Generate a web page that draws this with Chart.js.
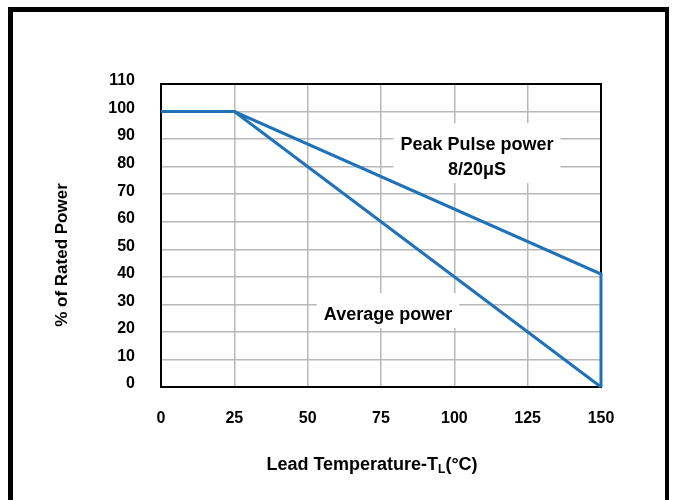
<!DOCTYPE html>
<html lang="en">
<head>
  <meta charset="UTF-8">
  <title>Power Derating Curve</title>
  <script src="https://cdn.jsdelivr.net/npm/chart.js"></script>
  <style>
    body {
      margin: 0;
      background: #fff;
    }
    #wrap {
      position: relative;
      width: 674px;
      height: 500px;
    }
    #frame {
      position: absolute;
      left: 8px;
      top: 7px;
      width: 652px;
      height: 520px;
      border: 5px solid #000;
      border-right-width: 4px;
      border-bottom: none;
      pointer-events: none;
    }
  </style>
</head>
<body>
  <div id="wrap">
    <canvas id="derating" width="674" height="500"></canvas>
    <div id="frame"></div>
  </div>

  <script>
    // data
    const peakTemps = [0, 25, 150, 150];
    const peakPower = [100, 100, 41, 0];
    const avgTemps = [0, 25, 150];
    const avgPower = [100, 100, 0];

    const xTicks = [0, 25, 50, 75, 100, 125, 150];
    const yTicks = [0, 10, 20, 30, 40, 50, 60, 70, 80, 90, 100, 110];

    // curve labels (data coordinates)
    const notes = [
      { lines: ['Peak Pulse power', '8/20\u03bcS'], x: 107.7, y: 87.8 },
      { lines: ['Average power'], x: 77.4, y: 26.1 }
    ];

    const blue = '#1f72b8';
    const font = 'Arial, "Liberation Sans", sans-serif';

    function toPoints(xs, ys) {
      return xs.map((x, i) => ({ x: x, y: ys[i] }));
    }

    // plot frame, white boxes + text over the grid, axis titles
    const notesPlugin = {
      id: 'notes',
      beforeDatasetsDraw(chart) {
        const ctx = chart.ctx;
        const a = chart.chartArea;
        const xs = chart.scales.x, ys = chart.scales.y;
        ctx.save();
        ctx.strokeStyle = '#000';
        ctx.lineWidth = 2;
        ctx.strokeRect(a.left, a.top, a.right - a.left, a.bottom - a.top);

        ctx.font = 'bold 18px ' + font;
        ctx.textAlign = 'center';
        ctx.textBaseline = 'middle';
        notes.forEach(n => {
          const cx = xs.getPixelForValue(n.x);
          const cy = ys.getPixelForValue(n.y);
          const w = Math.max(...n.lines.map(l => ctx.measureText(l).width)) + 14;
          const h = n.lines.length * 25 + 10;
          const top = cy - 17;
          ctx.fillStyle = '#fff';
          ctx.fillRect(cx - w / 2, top - 5, w, h);
          ctx.fillStyle = '#000';
          n.lines.forEach((l, i) => ctx.fillText(l, cx, cy + i * 25));
        });
        ctx.restore();
      },
      afterDraw(chart) {
        const ctx = chart.ctx;
        ctx.save();
        // y title
        ctx.fillStyle = '#000';
        ctx.font = 'bold 17px ' + font;
        ctx.textAlign = 'center';
        ctx.textBaseline = 'middle';
        ctx.translate(62, 255);
        ctx.rotate(-Math.PI / 2);
        ctx.fillText('% of Rated Power', 0, 0);
        ctx.restore();

        // x title with subscript L
        ctx.save();
        ctx.fillStyle = '#000';
        ctx.textBaseline = 'alphabetic';
        ctx.textAlign = 'left';
        const p1 = 'Lead Temperature-T', sub = 'L', p2 = '(\u00b0C)';
        ctx.font = 'bold 18px ' + font;
        const w1 = ctx.measureText(p1).width, w3 = ctx.measureText(p2).width;
        ctx.font = 'bold 12px ' + font;
        const w2 = ctx.measureText(sub).width;
        let x = 372 - (w1 + w2 + w3) / 2;
        const base = 470;
        ctx.font = 'bold 18px ' + font;
        ctx.fillText(p1, x, base);
        x += w1;
        ctx.font = 'bold 12px ' + font;
        ctx.fillText(sub, x, base + 3);
        x += w2;
        ctx.font = 'bold 18px ' + font;
        ctx.fillText(p2, x, base);
        ctx.restore();
      }
    };

    const ctx = document.getElementById('derating').getContext('2d');
    new Chart(ctx, {
      type: 'line',
      data: {
        datasets: [
          {
            label: 'Peak Pulse power',
            data: toPoints(peakTemps, peakPower),
            borderColor: blue,
            borderWidth: 3,
            pointRadius: 0,
            tension: 0,
            clip: false
          },
          {
            label: 'Average power',
            data: toPoints(avgTemps, avgPower),
            borderColor: blue,
            borderWidth: 3,
            pointRadius: 0,
            tension: 0,
            clip: false
          }
        ]
      },
      options: {
        responsive: false,
        animation: false,
        layout: { padding: { top: 84, right: 73, left: 0, bottom: 0 } },
        plugins: {
          legend: { display: false },
          tooltip: { enabled: false }
        },
        scales: {
          x: {
            type: 'linear',
            min: 0,
            max: 150,
            afterFit: s => { s.height = 113; },
            afterBuildTicks: s => { s.ticks = xTicks.map(v => ({ value: v })); },
            grid: { color: '#b8b8b8', lineWidth: 1.5, drawTicks: false },
            border: { display: false },
            ticks: {
              padding: 22,
              color: '#000',
              font: { family: font, size: 16, weight: 'bold' }
            }
          },
          y: {
            min: 0,
            max: 110,
            afterFit: s => { s.width = 161; },
            afterBuildTicks: s => { s.ticks = yTicks.map(v => ({ value: v })); },
            grid: { color: '#b8b8b8', lineWidth: 1.5, drawTicks: false },
            border: { display: false },
            ticks: {
              padding: 26,
              labelOffset: -3,
              color: '#000',
              font: { family: font, size: 16, weight: 'bold' }
            }
          }
        }
      },
      plugins: [notesPlugin]
    });
  </script>
</body>
</html>
